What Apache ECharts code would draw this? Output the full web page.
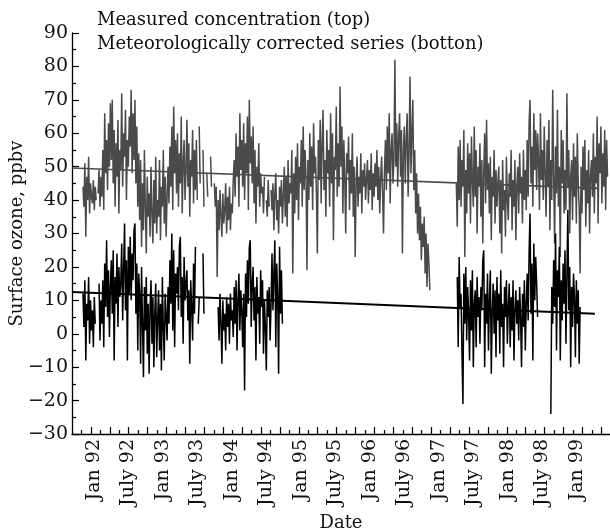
<!DOCTYPE html>
<html>
<head>
<meta charset="utf-8">
<script src="https://cdn.jsdelivr.net/npm/echarts@6/dist/echarts.min.js"></script>
<style>
html, body { margin: 0; padding: 0; background: #fff; }
#ozoneChart { width: 610px; height: 532px; }
</style>
</head>
<body>
<div id="ozoneChart"></div>
<script>
// values, one every 5 days
const STEP_DAYS = 5;

// measured concentration (top), ppbv
const measuredEarlyStart = '1991-11-04';
const measuredEarly = [
  44, 38, 51, 29, 47, 40, 53, 36, 45, 41,
  39, 46, 37, 44, 40, null, 42, 49, 38, 47,
  41, 55, 37, 66, 48, 58, 43, 63, 50, 69,
  52, 70, 45, 61, 38, 57, 47, 64, 36, 55,
  49, 72, 44, 60, 53, 67, 40, 58, 50, 65,
  56, 73, 48, 66, 52, 70, 45, 62, 38, 54,
  34, 52, 26, 45, 31, 55, 38, 24, 47, 35,
  42, 29, 50, 36, 27, 46, 33, 53, 30, 40,
  35, 52, 28, 44, 38, 55, 33, 47, 29, 41,
  50, 39, 56, 44, 62, 37, 68, 48, 58, 42,
  60, 38, 54, 45, 65, 36, 51, 58, 40, 49,
  64, 44, 57, 35, 52, 47, 61, 39, 55, 43,
  58, 40, null, 62, 45, null, null, 55, 38, null,
  null, 48, 41, null, null, 53, 44, null, null, 45,
  38, 44, 17, 40, 31, 43, 35, 29, 42, 33,
  37, 45, 30, 41, 34, 44, 31, 39, 36, 46,
  52, 41, 60, 47, 56, 38, 66, 49, 58, 44,
  63, 40, 57, 48, 65, 37, 70, 51, 59, 45,
  62, 39, 55, 33, 50, 44, 57, 38, 48, 42,
  44, 36, 47, null, 40, 35, 46, 38, null, 43,
  37, 45, 31, 42, 48, 34, 40, 30, 44, 38,
  46, 33, 41, 50, 35, 47, 32, 52, 39, 45,
  42, 55, 18, 48, 36, 53, 40, 57, 34, 50,
  45, 58, 38, 62, 43, 55, 47, 19, 52, 40,
  60, 44, 56, 37, 63, 48, 53, 42, 24, 58,
  46, 64, 39, 57, 67, 43, 52, 35, 61, 48,
  55, 38, 66, 45, 60, 28, 53, 49, 68, 41,
  57, 44, 74, 50, 62, 36, 58, 46, 30, 54,
  48, 59, 37, 52, 42, 60, 35, 50, 23, 45,
  53, 38, 47, 42, 54, 36, 49, 44, 51, 40,
  46, 52, 39, 49, 43, 54, 37, 48, 41, 51,
  44, 55, 40, 50, 36, 47, 53, 42, 30, 49,
  58, 43, 62, 48, 66, 39, 55, 60, 45, 52,
  82, 50, 63, 44, 59, 66, 47, 61, 24, 55,
  62, 45, 58, 66, 41, 54, 77, 48, 60, 70,
  43, 55, 36, 48, 30, 42, 28, 38, 22, 33,
  26, 35, 18, 30, 14, 27, 21, 13
];
const measuredLateStart = '1997-04-01';
const measuredLate = [
  45, 32, 56, 40, 58,
  38, 52, 44, 61, 23, 49, 36, 57, 42, 54,
  33, 59, 46, 38, 62, 41, 55, 30, 50, 44,
  57, 35, 52, 27, 48, 60, 39, 64, 43, 51,
  36, 53, 28, 47, 41, 55, 33, 49, 38, 45,
  50, 30, 46, 24, 52, 37, 43, 29, 53, 40,
  34, 48, 41, 55, 31, 46, 38, 52, 28, 44,
  50, 36, 54, 42, 47, 33, 55, 40, 49, 37,
  58, 41, 63, 70, 45, 56, 38, 66, 49, 61,
  43, 60, 52, 37, 66, 46, 55, 40, 62, 48,
  35, 58, 44, 64, 31, 52, 40, 73, 47, 27,
  56, 42, 67, 38, 50, 23, 61, 45, 58, 36,
  49, 37, 72, 44, 55, 30, 47, 52, 34, 57,
  41, 53, 33, 60, 45, 38, 18, 50, 36, 56,
  43, 58, 32, 49, 39, 55, 30, 47, 52, 41,
  60, 36, 53, 45, 65, 33, 57, 48, 62, 39,
  54, 44, 61, 37, 58, 47
];

// meteorologically corrected series (bottom), ppbv
const correctedEarlyStart = '1991-11-04';
const correctedEarly = [
  12, 2, 16, -8, 9, 4, 17, -3, 10, 1,
  7, -4, 11, 3, null, null, null, 15, -2, 10,
  3, 16, -4, 21, 8, 28, 5, 19, -1, 14,
  22, 6, 25, -8, 17, 9, 24, 2, 20, 11,
  15, 27, 4, 19, 33, 7, 22, -8, 26, 12,
  29, 10, 24, 16, 31, 33, 6, 21, -5, 18,
  12, -9, 20, 3, -13, 14, 1, 17, -6, 9,
  -12, 8, 16, -3, 11, -10, 6, 15, -7, 4,
  13, -5, 9, -11, 17, 2, -8, 12, 5, -2,
  14, 3, 22, 9, 30, 1, 25, -4, 18, 12,
  20, 7, 26, 29, 5, 17, -3, 23, 10, 15,
  19, 4, 13, -9, 16, 8, -2, 21, 6, 26,
  null, null, 3, 11, null, null, null, 24, 6, null,
  null, null, null, null, null, null, null, null, null, null,
  null, null, null, 8, -2, 12, 3, -9, 10, 1,
  6, -5, 11, 2, 9, -3, 12, 4, 7, -1,
  14, 3, 16, -5, 10, 18, 1, 13, 7, -4,
  12, -17, 18, 5, 22, 9, 26, 28, 2, 15,
  20, 4, 14, -8, 17, 6, 11, -3, 19, 8,
  16, -6, 10, 2, -11, 13, 5, 14, -2, 9,
  24, 7, 18, 28, -4, 21, 11, -12, 26, 6,
  19, 3
];
const correctedLateStart = '1997-04-06';
const correctedLate = [
  17, -4, 23, 8,
  12, -6, -21, 18, 3, 20, -2, 14, 6, -8,
  16, 1, 19, -10, 9, 13, -4, 17, 5, 11,
  -3, 14, 7, 22, 25, -10, 12, 3, 18, -5,
  10, 19, -12, 6, 15, 0, 13, -7, 17, 4,
  12, -6, 19, 2, 9, -10, 14, 5, 16, -3,
  8, 15, -4, 11, 1, 16, -8, 7, 13, 3,
  10, -2, 14, 5, -10, 12, 2, 16, -5, 9,
  18, 4, 24, 36, 6, 21, -8, 27, 10, 23,
  15, 5, null, null, null, null, null, null, null, null,
  null, null, null, null, null, -24, 14, 3, 22, 8,
  30, -5, 19, 11, 26, -8, 16, 4, 21, 9,
  25, -3, 17, 37, 7, 20, -10, 14, 2, 18,
  11, -7, 16, 3, 13, -9, 8
];

// linear trend lines
const measuredTrendDates = ['1991-09-07', '1999-04-20'];
const measuredTrend = [49.6, 43.5];
const correctedTrendDates = ['1991-09-07', '1999-04-04'];
const correctedTrend = [12.5, 6.0];

// x axis
const axisStart = '1991-09-07';
const axisEnd = '1999-06-23';
const labelDates = ['1992-01-01', '1992-07-01', '1993-01-01', '1993-07-01', '1994-01-01',
  '1994-07-01', '1995-01-01', '1995-07-01', '1996-01-01', '1996-07-01', '1997-01-01',
  '1997-07-01', '1998-01-01', '1998-07-01', '1999-01-01'];
const labelTexts = ['Jan 92', 'July 92', 'Jan 93', 'July 93', 'Jan 94', 'July 94', 'Jan 95',
  'July 95', 'Jan 96', 'July 96', 'Jan 97', 'July 97', 'Jan 98', 'July 98', 'Jan 99'];

function dayNum(s) {
  let p = s.split('-');
  return Date.UTC(+p[0], +p[1] - 1, +p[2]) / 86400000;
}
function toPoints(start, values) {
  let d0 = dayNum(start);
  return values.map((v, i) => [d0 + i * STEP_DAYS, v]);
}
function pairs(dates, values) {
  return dates.map((d, i) => [dayNum(d), values[i]]);
}

let xMin = dayNum(axisStart);
let xMax = dayNum(axisEnd);
let labelDays = labelDates.map(dayNum);
let labelMap = {};
labelDays.forEach((d, i) => { labelMap[d] = labelTexts[i]; });
let longTicks = [], shortTicks = [];
for (let d = xMin + 50; d < xMax; d += 50) {
  (Math.round((d - xMin) / 50) % 2 === 0 ? longTicks : shortTicks).push(d);
}

const FONT = 'DejaVu Serif';
const GRAY = '#4a4a4a';

let chart = echarts.init(document.getElementById('ozoneChart'));
let lineSeries = (data, color, width, z) => ({
  type: 'line', data: data, showSymbol: false, symbol: 'none', connectNulls: false,
  lineStyle: { color: color, width: width }, itemStyle: { color: color },
  animation: false, z: z
});

let option = {
  backgroundColor: '#fff',
  title: {
    text: 'Measured concentration (top)\nMeteorologically corrected series (botton)',
    left: 92, top: 3,
    textStyle: { fontFamily: FONT, fontSize: 18, fontWeight: 'normal', color: '#111', lineHeight: 24 }
  },
  grid: { left: 72, right: 0, top: 33, bottom: 98, containLabel: false, outerBoundsMode: 'none' },
  xAxis: [
    {
      type: 'value', min: xMin, max: xMax,
      axisLine: { onZero: false, lineStyle: { color: '#000', width: 1.3 } },
      axisTick: { inside: true, length: 7, customValues: longTicks, lineStyle: { color: '#000', width: 1.2 } },
      axisLabel: {
        customValues: labelDays, formatter: v => labelMap[v] || '',
        rotate: 90, margin: 5, fontFamily: FONT, fontSize: 19, color: '#111'
      },
      splitLine: { show: false },
      name: 'Date', nameLocation: 'middle', nameGap: 80,
      nameTextStyle: { fontFamily: FONT, fontSize: 18, color: '#111' }
    },
    {
      type: 'value', min: xMin, max: xMax, position: 'bottom',
      axisLine: { show: false, onZero: false },
      axisTick: { inside: true, length: 4, customValues: shortTicks, lineStyle: { color: '#000', width: 1.2 } },
      axisLabel: { show: false },
      splitLine: { show: false }
    }
  ],
  yAxis: {
    type: 'value', min: -30, max: 90, interval: 10,
    axisLine: { show: true, onZero: false, lineStyle: { color: '#000', width: 1.3 } },
    axisTick: { show: true, inside: true, length: 7, lineStyle: { color: '#000', width: 1.2 } },
    minorTick: { show: true, splitNumber: 2, length: 4, lineStyle: { color: '#000', width: 1.2 } },
    axisLabel: {
      formatter: v => String(v).replace('-', '\u2212'),
      margin: 4, fontFamily: FONT, fontSize: 19, color: '#111'
    },
    splitLine: { show: false },
    name: 'Surface ozone, ppbv', nameLocation: 'middle', nameGap: 46, nameMoveOverlap: false,
    nameTextStyle: { fontFamily: FONT, fontSize: 18, color: '#111' }
  },
  series: [
    lineSeries(toPoints(measuredEarlyStart, measuredEarly), GRAY, 1.5, 2),
    lineSeries(toPoints(measuredLateStart, measuredLate), GRAY, 1.5, 2),
    lineSeries(toPoints(correctedEarlyStart, correctedEarly), '#000', 1.5, 3),
    lineSeries(toPoints(correctedLateStart, correctedLate), '#000', 1.5, 3),
    lineSeries(pairs(measuredTrendDates, measuredTrend), GRAY, 1.6, 4),
    lineSeries(pairs(correctedTrendDates, correctedTrend), '#000', 2, 4)
  ]
};
chart.setOption(option);
</script>
</body>
</html>
